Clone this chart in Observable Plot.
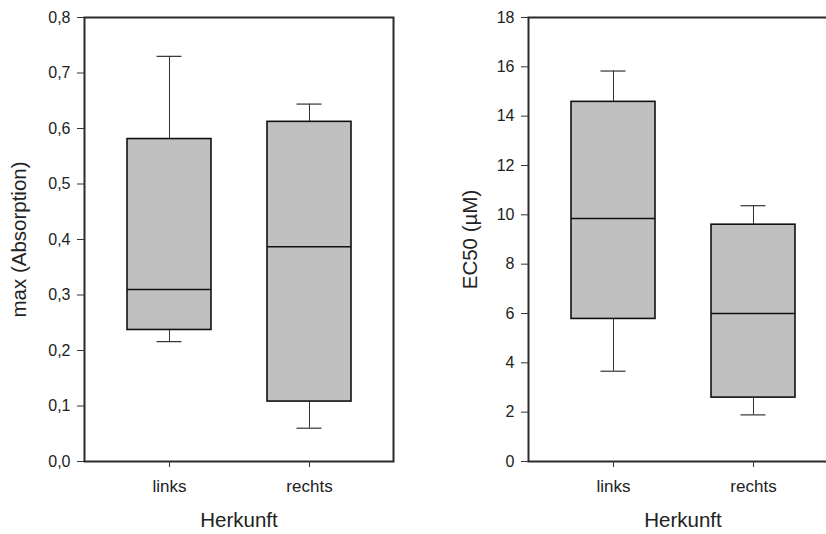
<!DOCTYPE html>
<html><head><meta charset="utf-8">
<script src="https://cdn.jsdelivr.net/npm/d3@7"></script>
<script src="https://cdn.jsdelivr.net/npm/@observablehq/plot@0.6"></script>
<style>
body{margin:0;background:#fff;overflow:hidden}
#row{display:flex;width:826px;height:534px;overflow:hidden;background:#fff}
#row > div{flex:none}
</style></head><body><div id="row"><div id="p1"></div><div id="p2"></div></div>
<script>
const categories = ["links", "rechts"];

// max (Absorption)
const absMin    = [0.216, 0.060];
const absQ1     = [0.237, 0.108];
const absMedian = [0.310, 0.387];
const absQ3     = [0.581, 0.612];
const absMax    = [0.730, 0.644];
const absTicks  = [0, 0.1, 0.2, 0.3, 0.4, 0.5, 0.6, 0.7, 0.8];

// EC50 (µM)
const ecMin    = [3.66, 1.89];
const ecQ1     = [5.78, 2.59];
const ecMedian = [9.85, 6.00];
const ecQ3     = [14.58, 9.60];
const ecMax    = [15.83, 10.37];
const ecTicks  = [0, 2, 4, 6, 8, 10, 12, 14, 16, 18];

const xLabel = "Herkunft";
const absLabel = "max (Absorption)";
const ecLabel = "EC50 (µM)";

function rowsOf(mn, q1, md, q3, mx) {
  return categories.map((c, i) => ({cat: c, min: mn[i], q1: q1[i], med: md[i], q3: q3[i], max: mx[i]}));
}

function panel({rows, ticks, fmt, ylabel, width, marginLeft, marginRight, labelDx}) {
  return Plot.plot({
    width, height: 534,
    marginTop: 17, marginBottom: 73, marginLeft, marginRight,
    style: {fontFamily: "'Liberation Sans', Arial, sans-serif", color: "#222", background: "#fff", maxWidth: "none", overflow: "visible"},
    x: {type: "band", domain: categories, paddingInner: 0.4, paddingOuter: 0.3, label: null},
    y: {domain: [ticks[0], ticks[ticks.length - 1]], label: null},
    marks: [
      Plot.ruleX(rows, {x: "cat", y1: "q3", y2: "max", stroke: "#333", strokeWidth: 1}),
      Plot.ruleX(rows, {x: "cat", y1: "min", y2: "q1", stroke: "#333", strokeWidth: 1}),
      Plot.tickY(rows, {x: "cat", y: "max", insetLeft: 29.5, insetRight: 29.5, stroke: "#333", strokeWidth: 1.2}),
      Plot.tickY(rows, {x: "cat", y: "min", insetLeft: 29.5, insetRight: 29.5, stroke: "#333", strokeWidth: 1.2}),
      Plot.barY(rows, {x: "cat", y1: "q1", y2: "q3", fill: "#c0c0c0", stroke: "#111", strokeWidth: 1.6}),
      Plot.tickY(rows, {x: "cat", y: "med", stroke: "#111", strokeWidth: 1.6}),
      Plot.frame({stroke: "#2a2a2a", strokeWidth: 2}),
      Plot.axisY({ticks, tickFormat: fmt, tickSize: 7, tickPadding: 7, fontSize: 16, label: null, stroke: "#333"}),
      Plot.axisX({tickSize: 6, tickPadding: 12, fontSize: 17, label: null, stroke: "#333"}),
      Plot.text([ylabel], {frameAnchor: "left", textAnchor: "middle", rotate: -90, dx: labelDx, fontSize: 20.5, fill: "#222"}),
      Plot.text([xLabel], {frameAnchor: "bottom", textAnchor: "middle", dy: 65, fontSize: 20.5, fill: "#222"})
    ]
  });
}

const commaFmt = (d) => d3.format(".1f")(d).replace(".", ",");

document.getElementById("p1").append(panel({
  rows: rowsOf(absMin, absQ1, absMedian, absQ3, absMax),
  ticks: absTicks, fmt: commaFmt, ylabel: absLabel,
  width: 413, marginLeft: 84, marginRight: 20, labelDx: -65
}));
document.getElementById("p2").append(panel({
  rows: rowsOf(ecMin, ecQ1, ecMedian, ecQ3, ecMax),
  ticks: ecTicks, fmt: d3.format("d"), ylabel: ecLabel,
  width: 424, marginLeft: 115, marginRight: 0, labelDx: -58
}));
</script></body></html>
